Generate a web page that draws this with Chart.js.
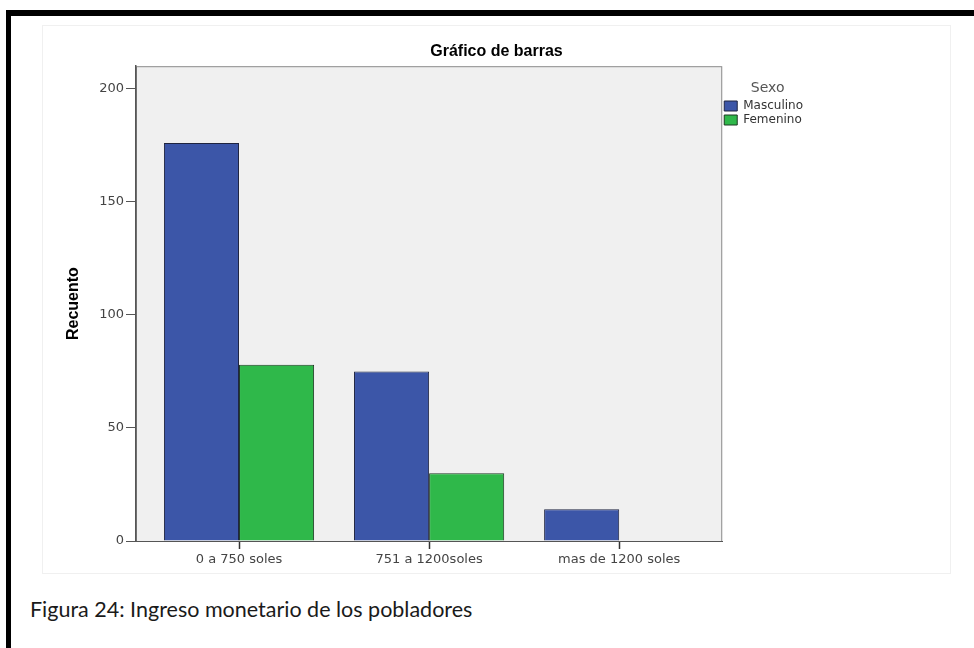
<!DOCTYPE html>
<html>
<head>
<meta charset="UTF-8">
<title>Gráfico de barras</title>
<script src="https://cdn.jsdelivr.net/npm/chart.js@4.4.1/dist/chart.umd.min.js"></script>
<style>
    body { margin: 0; background: #fff; width: 974px; height: 648px; overflow: hidden; position: relative; }
    #marco { position: absolute; left: 6px; top: 10px; right: -20px; bottom: -20px; border-left: 5px solid #000; border-top: 6px solid #000; }
    #grafico { position: absolute; left: 43px; top: 26px; width: 907px; height: 547px; box-shadow: 0 0 0 1px #f0f0f0; }
    #pie { position: absolute; left: 30px; top: 596px; font-family: Lato, "Open Sans", sans-serif; font-size: 21.5px; color: #1a1a1a; }
</style>
</head>
<body>
<div id="marco"></div>
<div id="grafico"><canvas id="chart-area"></canvas></div>
<div id="pie">Figura 24: Ingreso monetario de los pobladores</div>

<script type="text/javascript">
    // datos
    var categorias = ['0 a 750 soles', '751 a 1200soles', 'mas de 1200 soles'];
    var masculino = [176, 75, 14];
    var femenino = [78, 30, 0];
    var ticksY = [0, 50, 100, 150, 200];

    function puntos(valores) {
        return valores.map(function (v, i) { return { x: i, y: v }; });
    }

    // fondo gris y marco del area de trazado
    var fondoPlot = {
        id: 'fondoPlot',
        beforeDraw: function (chart) {
            var a = chart.chartArea, ctx = chart.ctx;
            ctx.save();
            ctx.fillStyle = '#f0f0f0';
            ctx.fillRect(a.left, a.top, a.right - a.left, a.bottom - a.top);
            ctx.strokeStyle = '#8c8c8c';
            ctx.lineWidth = 1;
            ctx.strokeRect(a.left + 0.5, a.top + 0.5, a.right - a.left - 1, a.bottom - a.top);
            ctx.restore();
        },
        // el titulo va centrado en toda la imagen, no solo a la izquierda de la leyenda
        afterLayout: function (chart) {
            var t = chart.titleBlock;
            if (t) { t.left = 0; t.right = chart.width; t.width = chart.width; }
        }
    };

    var config = {
        type: 'bar',
        data: {
            datasets: [{
                label: 'Masculino',
                data: puntos(masculino),
                backgroundColor: '#3c56a8',
                borderColor: '#1f2440',
                borderWidth: 1
            }, {
                label: 'Femenino',
                data: puntos(femenino),
                backgroundColor: '#2fb84a',
                borderColor: '#1d3a22',
                borderWidth: 1
            }]
        },
        options: {
            responsive: true,
            maintainAspectRatio: false,
            animation: false,
            categoryPercentage: 0.79,
            barPercentage: 1.0,
            layout: { padding: { left: 0, right: 137, top: 0, bottom: 0 } },
            plugins: {
                tooltip: { enabled: false },
                title: {
                    display: true,
                    text: 'Gráfico de barras',
                    color: '#000',
                    font: { family: 'Liberation Sans, Arial, sans-serif', size: 16, weight: 'bold' },
                    padding: { top: 16, bottom: 5 }
                },
                legend: {
                    position: 'right',
                    align: 'start',
                    fullSize: false,
                    title: {
                        display: true,
                        text: 'Sexo',
                        color: '#555',
                        font: { family: 'DejaVu Sans, sans-serif', size: 14 },
                        padding: { top: 15, bottom: 0 }
                    },
                    labels: {
                        boxWidth: 13,
                        boxHeight: 10,
                        padding: 2,
                        color: '#333',
                        font: { family: 'DejaVu Sans, sans-serif', size: 12 }
                    }
                }
            },
            scales: {
                x: {
                    type: 'linear',
                    offset: false,
                    min: -0.542,
                    max: 2.542,
                    afterBuildTicks: function (scale) {
                        scale.ticks = categorias.map(function (c, i) { return { value: i }; });
                    },
                    afterFit: function (scale) { scale.height = 32; },
                    ticks: {
                        autoSkip: false,
                        maxRotation: 0,
                        padding: 3,
                        color: '#444',
                        font: { family: 'DejaVu Sans, sans-serif', size: 13 },
                        callback: function (v) { return categorias[v]; }
                    },
                    grid: { offset: false, drawOnChartArea: false, tickLength: 8, color: '#333', tickColor: '#333', tickWidth: 1.5 },
                    border: { color: '#555', width: 1 }
                },
                y: {
                    min: 0,
                    max: 210,
                    afterBuildTicks: function (scale) {
                        scale.ticks = ticksY.map(function (v) { return { value: v }; });
                    },
                    afterFit: function (scale) { scale.width = 93; },
                    ticks: {
                        padding: 2,
                        color: '#444',
                        font: { family: 'DejaVu Sans, sans-serif', size: 13 }
                    },
                    grid: { drawOnChartArea: false, tickLength: 10, color: '#555' },
                    border: { color: '#555', width: 1.5 },
                    title: {
                        display: true,
                        text: 'Recuento',
                        color: '#000',
                        font: { family: 'Liberation Sans, Arial, sans-serif', size: 16, weight: 'bold' },
                        padding: { top: 21, bottom: 0 }
                    }
                }
            }
        },
        plugins: [fondoPlot]
    };

    var ctx = document.getElementById('chart-area').getContext('2d');
    window.myBar = new Chart(ctx, config);
</script>
</body>
</html>
